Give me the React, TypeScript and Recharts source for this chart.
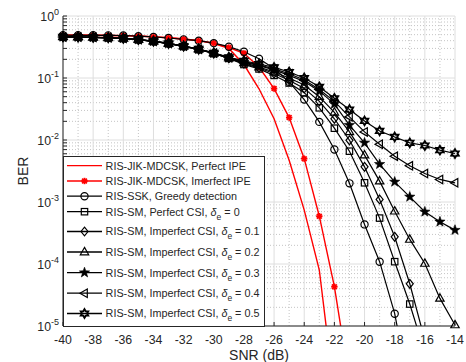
import React from "react";
import { ComposedChart, Line, XAxis, YAxis, CartesianGrid, Legend } from "recharts";

const FONT = "'Liberation Sans', Arial, Helvetica, sans-serif";
const AXIS = "#262626";

const snr = [-40, -39, -38, -37, -36, -35, -34, -33, -32, -31, -30, -29, -28, -27, -26, -25, -24, -23, -22, -21, -20, -19, -18, -17, -16, -15, -14];

// BER values (null = not plotted)
const perfectIPE = [0.49, 0.489, 0.488, 0.486, 0.483, 0.475, 0.46, 0.445, 0.425, 0.4, 0.36, 0.3, 0.165, 0.067, 0.022, 0.0047, 7.4e-4, 8e-5, 8e-7, null, null, null, null, null, null, null, null];
const imperfectIPE = [0.49, 0.489, 0.488, 0.486, 0.483, 0.475, 0.46, 0.445, 0.425, 0.4, 0.365, 0.31, 0.25, 0.15, 0.0675, 0.023, 0.005, 5.9e-4, 4.3e-5, 1.3e-6, null, null, null, null, null, null, null];
const sskGreedy = [0.49, 0.488, 0.488, 0.487, 0.485, 0.472, 0.459, 0.442, 0.42, 0.4, 0.365, 0.32, 0.265, 0.204, 0.142, 0.0865, 0.0449, 0.0196, 0.00702, 0.002, 4.35e-4, 1.09e-4, 1.58e-5, 9e-7, null, null, null];
const smDelta0 = [0.46, 0.457, 0.452, 0.445, 0.434, 0.414, 0.389, 0.358, 0.323, 0.288, 0.248, 0.207, 0.165, 0.14, 0.11, 0.083, 0.058, 0.033, 0.0155, 0.0066, 0.00204, 5.5e-4, 1.09e-4, 2.26e-5, 3.7e-6, null, null];
const smDelta01 = [0.46, 0.457, 0.452, 0.445, 0.435, 0.415, 0.39, 0.359, 0.324, 0.289, 0.249, 0.209, 0.17, 0.145, 0.118, 0.092, 0.068, 0.042, 0.022, 0.0099, 0.00369, 0.0011, 2.75e-4, 4.8e-5, 5.9e-6, null, null];
const smDelta02 = [0.46, 0.457, 0.452, 0.445, 0.435, 0.415, 0.39, 0.36, 0.325, 0.29, 0.25, 0.21, 0.175, 0.15, 0.125, 0.1, 0.077, 0.05, 0.028, 0.0135, 0.0057, 0.00217, 7.1e-4, 2.49e-4, 1.02e-4, 2.79e-5, 1.04e-5];
const smDelta03 = [0.46, 0.457, 0.452, 0.446, 0.436, 0.416, 0.391, 0.361, 0.326, 0.291, 0.252, 0.212, 0.18, 0.158, 0.135, 0.11, 0.088, 0.062, 0.038, 0.0174, 0.009, 0.00407, 0.00211, 0.00121, 6.95e-4, 4.8e-4, 3.52e-4];
const smDelta04 = [0.46, 0.458, 0.453, 0.446, 0.436, 0.417, 0.392, 0.362, 0.327, 0.292, 0.253, 0.214, 0.185, 0.162, 0.14, 0.117, 0.093, 0.065, 0.042, 0.0236, 0.0135, 0.00855, 0.00548, 0.00383, 0.00288, 0.00231, 0.00204];
const smDelta05 = [0.46, 0.458, 0.453, 0.447, 0.437, 0.418, 0.393, 0.363, 0.328, 0.294, 0.255, 0.216, 0.19, 0.168, 0.148, 0.125, 0.1, 0.072, 0.047, 0.031, 0.0203, 0.014, 0.0112, 0.009, 0.00815, 0.00685, 0.00605];

const xTicks = [-40, -38, -36, -34, -32, -30, -28, -26, -24, -22, -20, -18, -16, -14];
const xMinor = [-39, -37, -35, -33, -31, -29, -27, -25, -23, -21, -19, -17, -15];
const yDecades = [1, 0.1, 0.01, 0.001, 0.0001, 0.00001];
const yMinor = yDecades.slice(1).flatMap((d) => [2, 3, 4, 5, 6, 7, 8, 9].map((m) => m * d));
const yAllTicks = [...yDecades, ...yMinor].sort((a, b) => a - b);

const series = [
  { key: "perfect", values: perfectIPE, label: "RIS-JIK-MDCSK, Perfect IPE", color: "#ff0000", marker: "none" },
  { key: "imperfect", values: imperfectIPE, label: "RIS-JIK-MDCSK, Imerfect IPE", color: "#ff0000", marker: "asterisk" },
  { key: "ssk", values: sskGreedy, label: "RIS-SSK, Greedy detection", color: "#000000", marker: "circle" },
  { key: "sm0", values: smDelta0, label: "RIS-SM, Perfect CSI, ", delta: "0", color: "#000000", marker: "square" },
  { key: "sm1", values: smDelta01, label: "RIS-SM, Imperfect CSI, ", delta: "0.1", color: "#000000", marker: "diamond" },
  { key: "sm2", values: smDelta02, label: "RIS-SM, Imperfect CSI, ", delta: "0.2", color: "#000000", marker: "triangle" },
  { key: "sm3", values: smDelta03, label: "RIS-SM, Imperfect CSI, ", delta: "0.3", color: "#000000", marker: "pentagram" },
  { key: "sm4", values: smDelta04, label: "RIS-SM, Imperfect CSI, ", delta: "0.4", color: "#000000", marker: "left" },
  { key: "sm5", values: smDelta05, label: "RIS-SM, Imperfect CSI, ", delta: "0.5", color: "#000000", marker: "hexagram" },
];

const data = snr.map((s, i) => {
  const row: Record<string, number | null> = { snr: s };
  series.forEach((sr) => (row[sr.key] = sr.values[i]));
  return row;
});

function starPoints(cx: number, cy: number, n: number, ro: number, ri: number) {
  const pts: string[] = [];
  for (let i = 0; i < n * 2; i++) {
    const r = i % 2 === 0 ? ro : ri;
    const a = -Math.PI / 2 + (i * Math.PI) / n;
    pts.push(`${cx + r * Math.cos(a)},${cy + r * Math.sin(a)}`);
  }
  return pts.join(" ");
}

function Marker({ kind, cx, cy, color }: { kind: string; cx: number; cy: number; color: string }) {
  const sw = 1.2;
  switch (kind) {
    case "asterisk": {
      const r = 3.2;
      return (
        <g stroke={color} strokeWidth={1.8}>
          <line x1={cx - r} y1={cy} x2={cx + r} y2={cy} />
          <line x1={cx} y1={cy - r} x2={cx} y2={cy + r} />
          <line x1={cx - r * 0.75} y1={cy - r * 0.75} x2={cx + r * 0.75} y2={cy + r * 0.75} />
          <line x1={cx - r * 0.75} y1={cy + r * 0.75} x2={cx + r * 0.75} y2={cy - r * 0.75} />
        </g>
      );
    }
    case "circle":
      return <circle cx={cx} cy={cy} r={3.6} fill="none" stroke={color} strokeWidth={sw} />;
    case "square":
      return <rect x={cx - 3.2} y={cy - 3.2} width={6.4} height={6.4} fill="none" stroke={color} strokeWidth={sw} />;
    case "diamond":
      return <polygon points={`${cx},${cy - 4.4} ${cx + 3.5},${cy} ${cx},${cy + 4.4} ${cx - 3.5},${cy}`} fill="none" stroke={color} strokeWidth={sw} />;
    case "triangle":
      return <polygon points={`${cx},${cy - 4.6} ${cx + 4.2},${cy + 2.8} ${cx - 4.2},${cy + 2.8}`} fill="none" stroke={color} strokeWidth={sw} />;
    case "left":
      return <polygon points={`${cx - 4.6},${cy} ${cx + 2.8},${cy - 4.2} ${cx + 2.8},${cy + 4.2}`} fill="none" stroke={color} strokeWidth={sw} />;
    case "pentagram":
      return <polygon points={starPoints(cx, cy, 5, 5.4, 2.2)} fill={color} stroke={color} strokeWidth={0.6} />;
    case "hexagram":
      return <polygon points={starPoints(cx, cy, 6, 4.3, 2.5)} fill="none" stroke={color} strokeWidth={1.9} />;
    default:
      return null;
  }
}

const dotRenderer = (kind: string, color: string) => (p: any) => {
  if (p.cy == null || p.cx == null || Number.isNaN(p.cy)) return <g key={`e${p.index}`} />;
  return (
    <g key={`m${p.index}`}>
      <Marker kind={kind} cx={p.cx} cy={p.cy} color={color} />
    </g>
  );
};

const XTick = (p: any) => (
  <text x={p.x} y={p.y} dy={8.4} textAnchor="middle" fontSize={12.3} fill={AXIS} fontFamily={FONT}>
    {p.payload.value}
  </text>
);

const YTick = (p: any) => {
  const v = p.payload.value;
  const e = Math.round(Math.log10(v));
  if (Math.abs(Math.log10(v) - e) > 1e-6) return <g />;
  return (
    <text x={p.x} y={p.y + 5} textAnchor="end" fontSize={12.3} fill={AXIS} fontFamily={FONT}>
      <tspan>10</tspan>
      <tspan dy={-6.5} fontSize={9}>{e}</tspan>
    </text>
  );
};

const EmptyTick = () => <g />;

const legendRowY = [9.7, 25, 40.2, 55.7, 75.5, 96, 116.6, 137.2, 157.5];

function LegendBox() {
  return (
    <svg width={202} height={171} style={{ display: "block" }}>
      <rect x={0.5} y={0.5} width={201} height={170} fill="#fff" stroke={AXIS} strokeWidth={1} />
      {series.map((s, i) => {
        const y = legendRowY[i];
        return (
          <g key={s.key}>
            <line x1={4} y1={y} x2={39} y2={y} stroke={s.color} strokeWidth={1.3} />
            <Marker kind={s.marker} cx={21.5} cy={y} color={s.color} />
            <text x={42.6} y={y + 3.9} fontSize={10.8} fill={AXIS} fontFamily={FONT}>
              {s.label}
              {s.delta !== undefined && (
                <>
                  <tspan fontStyle="italic">δ</tspan>
                  <tspan fontSize={8.5} dy={4}>e</tspan>
                  <tspan dy={-4}> = {s.delta}</tspan>
                </>
              )}
            </text>
          </g>
        );
      })}
    </svg>
  );
}

export default function App() {
  return (
    <div style={{ position: "absolute", left: 0, top: 0, width: 466, height: 362, background: "#fff", fontFamily: FONT }}>
      <ComposedChart width={466} height={362} data={data} margin={{ top: 16, right: 11, bottom: 0, left: 0 }}>
        <CartesianGrid verticalValues={xMinor} horizontalValues={yMinor} stroke="#c4c4c4" strokeDasharray="1 2" />
        <CartesianGrid verticalValues={xTicks} horizontalValues={yDecades} stroke="#dedede" />
        <XAxis
          dataKey="snr"
          type="number"
          domain={[-40, -14]}
          ticks={xTicks}
          interval={0}
          height={36}
          tickSize={-4}
          tickMargin={14}
          tick={XTick}
          stroke={AXIS}
          label={(p: any) => (
            <text x={p.viewBox.x + p.viewBox.width / 2} y={p.viewBox.y + p.viewBox.height - 2} textAnchor="middle" fontSize={14} fill={AXIS} fontFamily={FONT}>
              SNR (dB)
            </text>
          )}
        />
        <XAxis xAxisId="top" orientation="top" type="number" dataKey="snr" domain={[-40, -14]} ticks={xTicks} interval={0} height={0} tickSize={-4} tick={EmptyTick} stroke={AXIS} />
        <YAxis
          scale="log"
          type="number"
          domain={[1e-5, 1]}
          allowDataOverflow
          ticks={yAllTicks}
          interval={0}
          width={63}
          tickSize={-4}
          tickMargin={8}
          tick={YTick}
          stroke={AXIS}
          label={(p: any) => {
            const x = p.viewBox.x + 28;
            const y = p.viewBox.y + p.viewBox.height / 2;
            return (
              <text x={x} y={y} transform={`rotate(-90 ${x} ${y})`} textAnchor="middle" fontSize={14} fill={AXIS} fontFamily={FONT}>
                BER
              </text>
            );
          }}
        />
        <YAxis yAxisId="r" orientation="right" scale="log" type="number" domain={[1e-5, 1]} allowDataOverflow ticks={yAllTicks} interval={0} width={0} tickSize={-4} tick={EmptyTick} stroke={AXIS} />
        <YAxis yAxisId="m" hide scale="log" type="number" domain={[1e-5, 1]} />
        {series.map((s) => [
          <Line
            key={s.key}
            type="linear"
            dataKey={s.key}
            stroke={s.color}
            strokeWidth={s.color === "#ff0000" ? 1.4 : 1.2}
            dot={false}
            activeDot={false}
            isAnimationActive={false}
            legendType="none"
          />,
          s.marker !== "none" ? (
            <Line
              key={`${s.key}-m`}
              yAxisId="m"
              type="linear"
              dataKey={(r: any) => (r[s.key] != null && r[s.key] >= 1e-5 ? r[s.key] : null)}
              stroke="none"
              dot={dotRenderer(s.marker, s.color)}
              activeDot={false}
              isAnimationActive={false}
              legendType="none"
            />
          ) : null,
        ])}
        <Legend
          layout="horizontal"
          verticalAlign="middle"
          align="center"
          content={() => <LegendBox />}
          wrapperStyle={{ left: 62.5, top: 155.5, width: 202, height: 171 }}
        />
      </ComposedChart>
    </div>
  );
}
